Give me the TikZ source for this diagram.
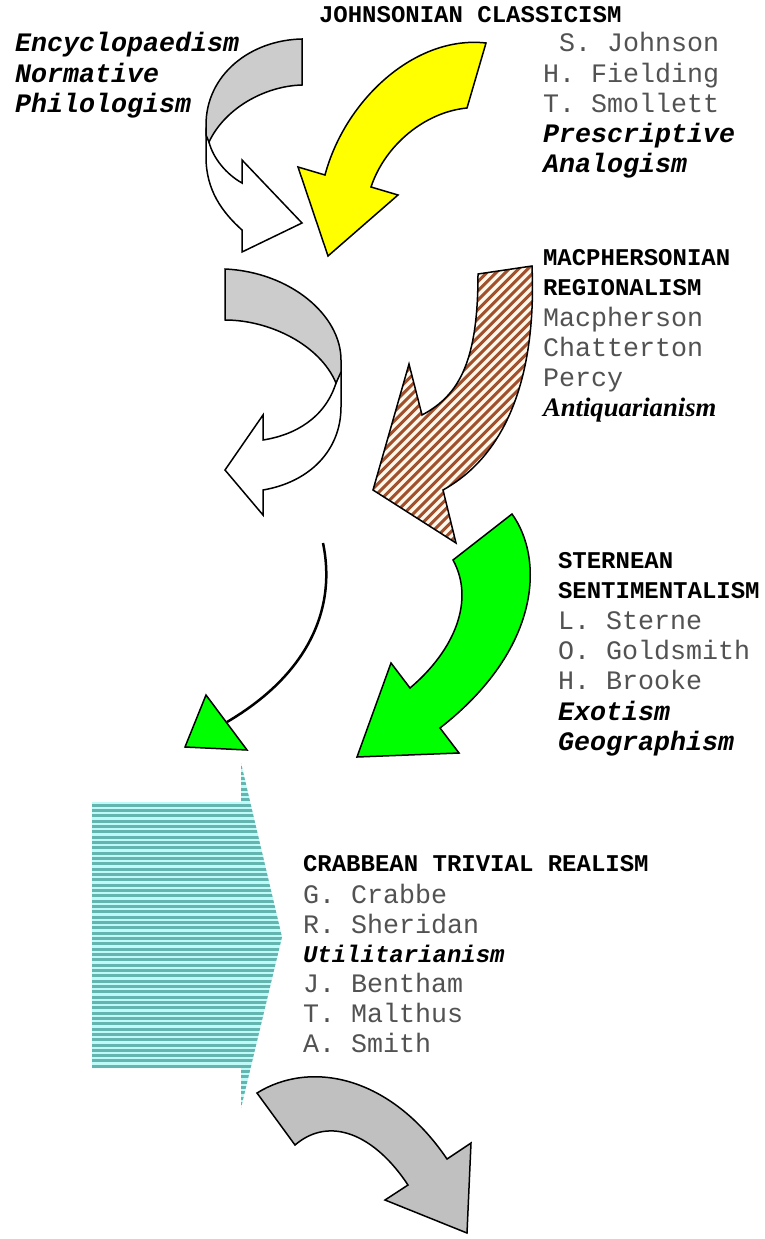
\documentclass[tikz,border=0pt]{standalone}
\usepackage{fontspec}
\setmainfont{Liberation Serif}
\setmonofont{Liberation Mono}
\begin{document}
\begin{tikzpicture}[x=1pt,y=-1pt,
  outl/.style={draw=black,line width=1.5pt,line join=miter},
  txt/.style={anchor=base west,inner sep=0pt,outer sep=0pt},
  hdr/.style={txt,font=\ttfamily\bfseries\fontsize{24}{30}\selectfont},
  nm/.style={txt,text=black!68,font=\ttfamily\fontsize{26.67}{30}\selectfont},
  bi/.style={txt,font=\ttfamily\bfseries\itshape\fontsize{26.67}{30}\selectfont},
  bis/.style={txt,font=\ttfamily\bfseries\itshape\fontsize{24}{30}\selectfont},
  sbi/.style={txt,font=\rmfamily\bfseries\itshape\fontsize{26.67}{30}\selectfont}]
\definecolor{lgray}{RGB}{204,204,204}
\definecolor{mgray}{RGB}{192,192,192}
\definecolor{stripebrown}{RGB}{160,80,45}
\definecolor{stripelight}{RGB}{255,248,235}
\definecolor{tealdark}{RGB}{100,180,176}
\definecolor{teallight}{RGB}{190,250,248}
\definecolor{pureyellow}{RGB}{255,255,0}
\definecolor{puregreen}{RGB}{0,255,0}
\useasboundingbox (0,0) rectangle (764,1239);
\fill[white] (0,0) rectangle (764,1239);

% ---- first twisted ribbon arrow (gray back, white front) ----
\path[outl,fill=white] (209,142) .. controls (213,158) and (226,174) .. (242,183)
  -- (242,160) -- (302,223) -- (242,252) -- (242,230)
  .. controls (222,212) and (206,190) .. (206,157) -- (206,132) -- cycle;
\path[outl,fill=lgray] (302,39) .. controls (250,40) and (206,75) .. (206,125)
  -- (206,135) -- (209,142) .. controls (225,108) and (265,86) .. (302,85) -- cycle;

% ---- yellow curved arrow ----
\path[outl,fill=pureyellow] (486,43) -- (467,108) .. controls (425,112) and (385,145) .. (371,187)
  -- (398,195) -- (328,256) -- (298,167) -- (325,175)
  .. controls (345,100) and (415,35) .. (486,43) -- cycle;

% ---- second twisted ribbon arrow ----
\path[outl,fill=white] (336,383) .. controls (325,418) and (295,435) .. (263,440)
  -- (263,415) -- (225,470) -- (263,515) -- (263,490)
  .. controls (310,482) and (341,450) .. (341,407) -- (341,368) -- cycle;
\path[outl,fill=lgray] (225,269) .. controls (290,272) and (341,315) .. (341,360)
  -- (341,372) -- (336,383) .. controls (320,345) and (270,320) .. (225,320) -- cycle;

% ---- brown striped curved arrow ----
\def\brownarrow{(478,274) -- (532,266) .. controls (536,360) and (515,450) .. (443,490)
  -- (456,543) -- (373,490) -- (409,364) -- (422,415)
  .. controls (460,395) and (478,360) .. (478,274) -- cycle}
\fill[stripelight] \brownarrow;
\begin{scope}
  \clip \brownarrow;
  \foreach \k in {0,...,70}{
    \draw[stripebrown,line width=3pt] (\k*9.3+60,560) -- ++(320,-320);
  }
\end{scope}
\draw[outl] \brownarrow;

% ---- green curved arrow ----
\path[outl,fill=puregreen] (512,514) .. controls (545,560) and (540,650) .. (440,728)
  -- (459,753) -- (357,757) -- (391,663) -- (410,688)
  .. controls (455,650) and (475,600) .. (453,560) -- cycle;

% ---- thin curved line with green head ----
\coordinate (lineA) at (323,543);
\coordinate (lineB) at (227,722);
\draw[line width=2.5pt] (lineA) .. controls (336,605) and (312,672) .. (lineB);
\path[outl,fill=puregreen] (206,695) -- (247,750) -- (185,747) -- cycle;

% ---- teal striped block arrow ----
\def\tealarrow{(92,802) -- (241,802) -- (241,763) -- (282,937) -- (241,1108) -- (241,1068) -- (92,1068) -- cycle}
\fill[teallight] \tealarrow;
\begin{scope}
  \clip \tealarrow;
  \foreach \k in {0,...,66}{
    \draw[tealdark,line width=3pt] (90,762.5+\k*5.33) -- (290,762.5+\k*5.33);
  }
\end{scope}

% ---- gray curved arrow at the bottom ----
\path[outl,fill=mgray] (257,1093) .. controls (310,1060) and (390,1075) .. (447,1159)
  -- (471,1143) -- (467,1233) -- (385,1200) -- (408,1185)
  .. controls (375,1135) and (330,1115) .. (295,1145) -- cycle;

% ---- labels ----
\node[hdr] (jc) at (319,23) {JOHNSONIAN CLASSICISM};
\node[bi] (enc) at (15,52) {Encyclopaedism};
\node[bi] (nor) at (15,82) {Normative};
\node[bi] (phi) at (15,112) {Philologism};
\node[nm] (sj) at (559,52) {S. Johnson};
\node[nm] (hf) at (543,82) {H. Fielding};
\node[nm] (ts) at (543,112) {T. Smollett};
\node[bi] (pre) at (543,142) {Prescriptive};
\node[bi] (ana) at (543,172) {Analogism};

\node[hdr] (mr1) at (543,265) {MACPHERSONIAN};
\node[hdr] (mr2) at (543,295) {REGIONALISM};
\node[nm] (mac) at (543,326) {Macpherson};
\node[nm] (cha) at (543,356) {Chatterton};
\node[nm] (per) at (543,386) {Percy};
\node[sbi] (ant) at (543,416) {Antiquarianism};

\node[hdr] (ss1) at (558,568) {STERNEAN};
\node[hdr] (ss2) at (558,598) {SENTIMENTALISM};
\node[nm] (ls) at (558,629) {L. Sterne};
\node[nm] (og) at (558,659) {O. Goldsmith};
\node[nm] (hb) at (558,689) {H. Brooke};
\node[bi] (exo) at (558,720) {Exotism};
\node[bi] (geo) at (558,750) {Geographism};

\node[hdr] (ctr) at (303,871) {CRABBEAN TRIVIAL REALISM};
\node[nm] (gc) at (303,903) {G. Crabbe};
\node[nm] (rs) at (303,933) {R. Sheridan};
\node[bis] (uti) at (303,962) {Utilitarianism};
\node[nm] (jb) at (303,992) {J. Bentham};
\node[nm] (tm) at (303,1022) {T. Malthus};
\node[nm] (as) at (303,1052) {A. Smith};
\end{tikzpicture}
\end{document}
